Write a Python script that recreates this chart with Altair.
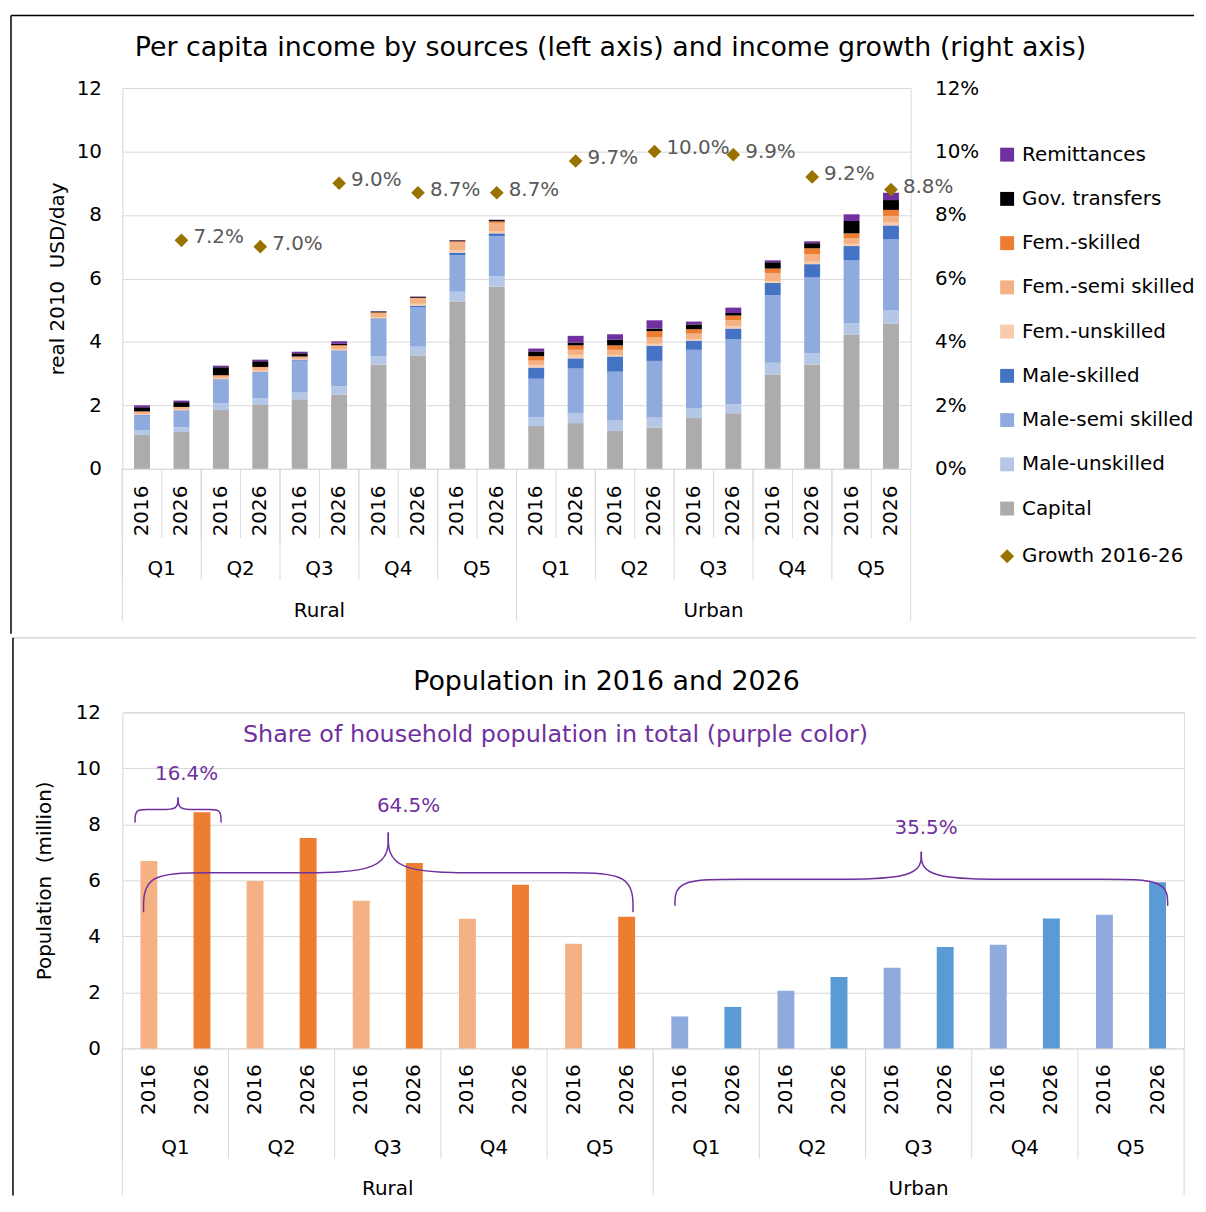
import altair as alt
import pandas as pd

# ---------------- data ----------------
areas = ["Rural", "Urban"]
quintiles = ["Q1", "Q2", "Q3", "Q4", "Q5"]
years = ["2016", "2026"]

series_names = ["Capital", "Male-unskilled", "Male-semi skilled", "Male-skilled",
                "Fem.-unskilled", "Fem.-semi skilled", "Fem.-skilled",
                "Gov. transfers", "Remittances"]
series_colors = ["#AEABAB", "#B4C7E7", "#8FAADC", "#4472C4",
                 "#F8CBAD", "#F4B183", "#ED7D31", "#000000", "#7030A0"]

# order: Rural Q1 2016, Rural Q1 2026, ..., Urban Q5 2026
capital = [1.07, 1.16, 1.85, 2.01, 2.19, 2.34, 3.29, 3.57, 5.27, 5.74,
           1.35, 1.44, 1.19, 1.30, 1.60, 1.75, 2.97, 3.29, 4.23, 4.58]
male_unskilled = [0.14, 0.15, 0.21, 0.21, 0.21, 0.26, 0.26, 0.28, 0.31, 0.33,
                  0.27, 0.32, 0.33, 0.32, 0.30, 0.29, 0.37, 0.36, 0.36, 0.42]
male_semi = [0.47, 0.51, 0.74, 0.82, 1.01, 1.10, 1.16, 1.25, 1.15, 1.26,
             1.22, 1.40, 1.54, 1.78, 1.85, 2.05, 2.13, 2.38, 1.98, 2.24]
male_skilled = [0.02, 0.02, 0.02, 0.02, 0.03, 0.03, 0.03, 0.04, 0.08, 0.09,
                0.35, 0.32, 0.48, 0.48, 0.29, 0.33, 0.39, 0.42, 0.45, 0.43]
fem_unskilled = [0.03, 0.03, 0.03, 0.03, 0.02, 0.03, 0.04, 0.06, 0.07, 0.06,
                 0.07, 0.11, 0.05, 0.06, 0.05, 0.07, 0.06, 0.08, 0.07, 0.09]
fem_semi = [0.07, 0.07, 0.08, 0.10, 0.06, 0.11, 0.13, 0.17, 0.26, 0.27,
            0.15, 0.16, 0.16, 0.20, 0.17, 0.19, 0.25, 0.24, 0.18, 0.21]
fem_skilled = [0.01, 0.01, 0.02, 0.02, 0.02, 0.03, 0.02, 0.02, 0.03, 0.05,
               0.14, 0.14, 0.14, 0.20, 0.14, 0.15, 0.14, 0.18, 0.15, 0.19]
gov_transfers = [0.13, 0.15, 0.25, 0.18, 0.10, 0.04, 0.03, 0.03, 0.03, 0.04,
                 0.15, 0.09, 0.18, 0.08, 0.15, 0.08, 0.20, 0.16, 0.39, 0.31]
remittances = [0.06, 0.05, 0.05, 0.05, 0.05, 0.08, 0.01, 0.01, 0.01, 0.01,
               0.09, 0.21, 0.17, 0.26, 0.09, 0.17, 0.06, 0.06, 0.21, 0.23]
series_values = [capital, male_unskilled, male_semi, male_skilled, fem_unskilled,
                 fem_semi, fem_skilled, gov_transfers, remittances]

# growth 2016-26 (Rural Q1..Q5, Urban Q1..Q5)
growth = [0.072, 0.070, 0.090, 0.087, 0.087, 0.097, 0.100, 0.099, 0.092, 0.088]

# population (million), same order as income bars
population = [6.69, 8.43, 5.98, 7.51, 5.27, 6.62, 4.63, 5.84, 3.74, 4.70,
              1.14, 1.48, 2.06, 2.55, 2.88, 3.62, 3.70, 4.64, 4.77, 5.93]
pop_groups = ["Rural 2016", "Rural 2026", "Urban 2016", "Urban 2026"]
pop_colors = ["#F4B183", "#ED7D31", "#8FAADC", "#5B9BD5"]

# braces (category position units 0..20, y in million)
brace_x0 = [0.24, 0.40, 10.41]
brace_x1 = [1.86, 9.62, 19.69]
brace_y_end = [8.07, 4.86, 5.09]
brace_y_mid = [8.53, 6.27, 6.04]
brace_y_tip = [8.96, 7.71, 7.02]
brace_labels = ["16.4%", "64.5%", "35.5%"]
brace_label_x = [1.21, 5.39, 15.14]
brace_label_y = [9.81, 8.65, 7.88]
note_text = "Share of household population in total (purple color)"
note_x = [8.16]
note_y = [11.2]

title_top = "Per capita income by sources (left axis) and income growth (right axis)"
title_bottom = "Population in 2016 and 2026"

# ---------------- tables ----------------
keys = [f"{a}|{q}|{y}" for a in areas for q in quintiles for y in years]
key_years = [k.split("|")[2] for k in keys]
keys_2016 = [k for k in keys if k.endswith("2016")]
keys_2026 = [k for k in keys if k.endswith("2026")]
keys_area_start = [f"{a}|Q1|2016" for a in areas]
keys_area_mid = [f"{a}|Q3|2016" for a in areas]

rows = []
for si, (name, vals) in enumerate(zip(series_names, series_values)):
    for k, v in zip(keys, vals):
        rows.append({"key": k, "series": name, "value": v, "order": si})
income_df = pd.DataFrame(rows)

growth_df = pd.DataFrame({"key": keys_2026, "growth": growth,
                          "label": ["Growth 2016-26"] * len(keys_2026)})

pop_df = pd.DataFrame({"key": keys, "pop": population,
                       "grp": [k.split("|")[0] + " " + k.split("|")[2] for k in keys]})
year_df = pd.DataFrame({"key": keys, "yr": key_years})

brace_rows = []
for i in range(len(brace_x0)):
    x0, x1 = brace_x0[i], brace_x1[i]
    ye, ym, yt = brace_y_end[i], brace_y_mid[i], brace_y_tip[i]
    xc = (x0 + x1) / 2
    h = (x1 - x0) / 2
    for side, sgn, xe in (("L", 1, x0), ("R", -1, x1)):
        ctrl = [(xe, ye), (xe, ym), (xe + sgn * 0.25 * h, ym),
                (xc - sgn * 0.4 * h, ym), (xc, ym), (xc, yt)]
        for j, (px, py) in enumerate(ctrl):
            brace_rows.append({"seg": f"{i}{side}", "idx": j, "bx": px, "by": py})
brace_df = pd.DataFrame(brace_rows)
brace_lab_df = pd.DataFrame({"bx": brace_label_x, "by": brace_label_y, "t": brace_labels})
note_df = pd.DataFrame({"bx": note_x, "by": note_y, "t": [note_text]})

one = pd.DataFrame({"a": [0]})

FONT = "DejaVu Sans"
GRID = "#D9D9D9"
PURPLE = "#7030A0"
GOLD = "#997300"

# ---------------- top chart ----------------
W1, H1 = 793, 383
xs1 = alt.Scale(domain=keys, paddingInner=0, paddingOuter=0)
ys1 = alt.Scale(domain=[0, 12], nice=False)
ys1r = alt.Scale(domain=[0, 0.12], nice=False)

bars1 = alt.Chart(income_df).mark_bar(size=16).encode(
    x=alt.X("key:N", scale=xs1, axis=alt.Axis(
        title=None, labels=False, ticks=False, tickSize=0, tickBand="extent",
        grid=True, domainColor=GRID)),
    y=alt.Y("value:Q", stack="zero", scale=ys1, axis=alt.Axis(
        values=[0, 2, 4, 6, 8, 10, 12], title="real 2010\u00a0 USD/day",
        titlePadding=9, labelPadding=21, ticks=False, domain=False, grid=True)),
    color=alt.Color("series:N", scale=alt.Scale(domain=series_names[::-1], range=series_colors[::-1]),
                    legend=alt.Legend(title=None, orient="none", legendX=880, legendY=57,
                                      symbolType="square", symbolSize=196, symbolStrokeWidth=0,
                                      labelFontSize=20, labelOffset=5, rowPadding=24.5, padding=0,
                                      labelLimit=400, labelColor="black")),
    order=alt.Order("order:Q", sort="ascending"),
)


def seps(key_list, xs, y0, y1, band=0):
    return alt.Chart(pd.DataFrame({"key": key_list})).mark_rule(color=GRID, strokeWidth=1).encode(
        x=alt.X("key:N", scale=xs, bandPosition=band, axis=None),
        y=alt.value(y0), y2=alt.value(y1))


def year_labels(xs, y0):
    return alt.Chart(year_df).mark_text(angle=270, align="right", baseline="middle",
                                        fontSize=20, color="black").encode(
        x=alt.X("key:N", scale=xs, axis=None), y=alt.value(y0), text="yr:N")


ylab1 = year_labels(xs1, H1 + 17)
yseps1 = seps(keys, xs1, H1, H1 + 70)
qseps1 = seps(keys_2016, xs1, H1, H1 + 112)
aseps1 = seps(keys_area_start, xs1, H1, H1 + 153)
aend1 = seps([keys[-1]], xs1, H1, H1 + 153, band=1)

qlab1 = alt.Chart(pd.DataFrame({"key": keys_2016, "q": quintiles * 2})).mark_text(
    fontSize=20, color="black", baseline="middle").encode(
    x=alt.X("key:N", scale=xs1, bandPosition=1, axis=None), y=alt.value(H1 + 101), text="q:N")
alab1 = alt.Chart(pd.DataFrame({"key": keys_area_mid, "a": areas})).mark_text(
    fontSize=20, color="black", baseline="middle").encode(
    x=alt.X("key:N", scale=xs1, bandPosition=1, axis=None), y=alt.value(H1 + 143), text="a:N")

ttl1 = alt.Chart(one).mark_text(fontSize=27, color="black", baseline="middle").encode(
    x=alt.value(491), y=alt.value(-40), text=alt.value(title_top))
frame1_top = alt.Chart(one).mark_rule(color="black", strokeWidth=1.5).encode(
    x=alt.value(-112), x2=alt.value(1078), y=alt.value(-73))
frame1_left = alt.Chart(one).mark_rule(color="black", strokeWidth=1.5).encode(
    x=alt.value(-112), y=alt.value(-73), y2=alt.value(549))

pts = alt.Chart(growth_df).mark_point(filled=True, size=190, opacity=1, color=GOLD).encode(
    x=alt.X("key:N", scale=xs1, axis=None),
    y=alt.Y("growth:Q", scale=ys1r, axis=alt.Axis(
        orient="right", format=".0%", values=[0, 0.02, 0.04, 0.06, 0.08, 0.10, 0.12],
        title=None, labelPadding=24, ticks=False, domain=False, grid=False)),
    shape=alt.Shape("label:N", scale=alt.Scale(domain=["Growth 2016-26"], range=["diamond"]),
                    legend=alt.Legend(title=None, orient="none", legendX=880, legendY=461,
                                      symbolSize=200, symbolFillColor=GOLD, symbolStrokeColor=GOLD,
                                      labelFontSize=20, labelOffset=5, padding=0,
                                      labelLimit=400, labelColor="black")),
)
gtxt = alt.Chart(growth_df).mark_text(align="left", baseline="middle", dx=12, dy=-3,
                                      fontSize=20, color="#595959").encode(
    x=alt.X("key:N", scale=xs1, axis=None),
    y=alt.Y("growth:Q", scale=ys1r),
    text=alt.Text("growth:Q", format=".1%"),
)

top = alt.layer(
    alt.layer(bars1, ylab1, yseps1, qseps1, aseps1, aend1, qlab1, alab1, ttl1, frame1_top, frame1_left),
    alt.layer(pts, gtxt),
).resolve_scale(y="independent").properties(width=W1, height=H1)

# ---------------- bottom chart ----------------
W2, H2 = 1068, 338
xs2 = alt.Scale(domain=keys, paddingInner=0, paddingOuter=0)
ys2 = alt.Scale(domain=[0, 12], nice=False)
xq2 = alt.Scale(domain=[0, 20], nice=False, zero=False)

bars2 = alt.Chart(pop_df).mark_bar(size=17).encode(
    x=alt.X("key:N", scale=xs2, axis=alt.Axis(
        title=None, labels=False, ticks=False, tickSize=0, tickBand="extent",
        grid=True, domainColor=GRID)),
    y=alt.Y("pop:Q", scale=ys2, axis=alt.Axis(
        values=[0, 2, 4, 6, 8, 10, 12], title="Population\u00a0 (million)",
        titlePadding=21, labelPadding=22, ticks=False, domain=False, grid=True)),
    color=alt.Color("grp:N", scale=alt.Scale(domain=pop_groups, range=pop_colors), legend=None),
)
ylab2 = year_labels(xs2, H2 + 16)
qseps2 = seps(keys_2016, xs2, H2, H2 + 111)
aseps2 = seps(keys_area_start, xs2, H2, H2 + 148)
aend2 = seps([keys[-1]], xs2, H2, H2 + 148, band=1)
qlab2 = alt.Chart(pd.DataFrame({"key": keys_2016, "q": quintiles * 2})).mark_text(
    fontSize=20, color="black", baseline="middle").encode(
    x=alt.X("key:N", scale=xs2, bandPosition=1, axis=None), y=alt.value(H2 + 100), text="q:N")
alab2 = alt.Chart(pd.DataFrame({"key": keys_area_mid, "a": areas})).mark_text(
    fontSize=20, color="black", baseline="middle").encode(
    x=alt.X("key:N", scale=xs2, bandPosition=1, axis=None), y=alt.value(H2 + 141), text="a:N")
ttl2 = alt.Chart(one).mark_text(fontSize=27, color="black", baseline="middle").encode(
    x=alt.value(487), y=alt.value(-31), text=alt.value(title_bottom))
frame2_top = alt.Chart(one).mark_rule(color=GRID, strokeWidth=1.5).encode(
    x=alt.value(-110), x2=alt.value(1080), y=alt.value(-75))
frame2_left = alt.Chart(one).mark_rule(color="black", strokeWidth=1.5).encode(
    x=alt.value(-110), y=alt.value(-75), y2=alt.value(486))

brace_lines = alt.Chart(brace_df).mark_line(interpolate="basis", color=PURPLE, strokeWidth=1.5).encode(
    x=alt.X("bx:Q", scale=xq2, axis=None),
    y=alt.Y("by:Q", scale=ys2),
    detail="seg:N",
    order=alt.Order("idx:Q"),
)
brace_txt = alt.Chart(brace_lab_df).mark_text(fontSize=20, color=PURPLE, baseline="middle").encode(
    x=alt.X("bx:Q", scale=xq2, axis=None),
    y=alt.Y("by:Q", scale=ys2),
    text="t:N",
)
note = alt.Chart(note_df).mark_text(fontSize=24, color=PURPLE, baseline="middle").encode(
    x=alt.X("bx:Q", scale=xq2, axis=None),
    y=alt.Y("by:Q", scale=ys2),
    text="t:N",
)

bottom = alt.layer(
    alt.layer(bars2, ylab2, qseps2, aseps2, aend2, qlab2, alab2, ttl2, frame2_top, frame2_left),
    alt.layer(brace_lines, brace_txt, note),
).resolve_scale(x="independent").properties(width=W2, height=H2)

chart = alt.vconcat(top, bottom, spacing=0).resolve_scale(
    color="independent", shape="independent"
).properties(
    padding={"left": 1, "top": 2, "right": 0, "bottom": 0}
).configure(font=FONT).configure_view(stroke=GRID).configure_axis(
    labelFontSize=20, titleFontSize=20, labelColor="black", titleColor="black",
    titleFontWeight="normal", gridColor=GRID, labelFont=FONT, titleFont=FONT
).configure_legend(labelFont=FONT)

chart.save("out.html", embed_options={"renderer": "svg", "actions": False})
